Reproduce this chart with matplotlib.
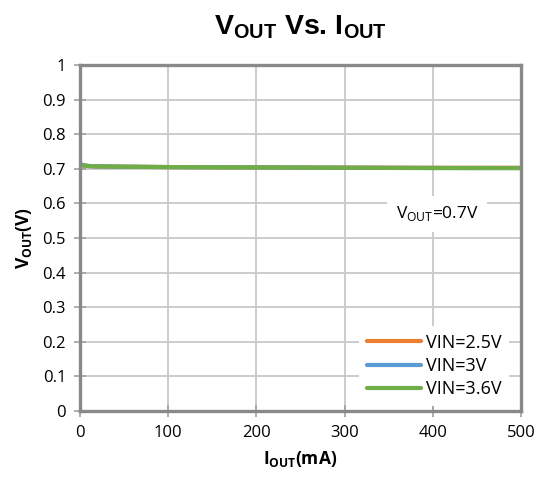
import matplotlib
matplotlib.use("Agg")
import matplotlib.pyplot as plt

iout = [0, 2, 5, 10, 20, 50, 100, 200, 300, 400, 500]
vin_labels = ["VIN=2.5V", "VIN=3V", "VIN=3.6V"]
v_25 = [0.713, 0.711, 0.709, 0.708, 0.707, 0.706, 0.705, 0.704, 0.7035, 0.703, 0.703]
v_30 = [0.715, 0.712, 0.710, 0.708, 0.707, 0.706, 0.705, 0.704, 0.703, 0.7025, 0.7022]
v_36 = [0.712, 0.710, 0.709, 0.708, 0.707, 0.706, 0.705, 0.704, 0.703, 0.702, 0.702]
colors = ["#ED7D31", "#5B9BD5", "#70AD47"]
xticks = [0, 100, 200, 300, 400, 500]
yticks = [0, 0.1, 0.2, 0.3, 0.4, 0.5, 0.6, 0.7, 0.8, 0.9, 1]
ytick_labels = ["0", "0.1", "0.2", "0.3", "0.4", "0.5", "0.6", "0.7", "0.8", "0.9", "1"]

plt.rcParams['font.family'] = ['Open Sans', 'DejaVu Sans']
plt.rcParams['mathtext.fontset'] = 'custom'
plt.rcParams['mathtext.rm'] = 'Open Sans'
plt.rcParams['mathtext.bf'] = 'Open Sans:bold'
plt.rcParams['mathtext.sf'] = 'Liberation Sans:bold'

fig = plt.figure(figsize=(5.36, 4.87), dpi=100)
ax = fig.add_axes([80/536, 76/487, 441/536, 346/487])

for ys, c, lab in zip([v_25, v_30, v_36], colors, vin_labels):
    ax.plot(iout, ys, color=c, lw=3, label=lab, solid_capstyle='round')

ax.set_xlim(0, 500)
ax.set_ylim(0, 1)
ax.set_xticks(xticks)
ax.set_yticks(yticks)
ax.set_yticklabels(ytick_labels)
ax.grid(True, color="#c8c8c8", lw=1.3)
ax.set_axisbelow(True)
for s in ax.spines.values():
    s.set_color("#898989")
    s.set_linewidth(2.4)
ax.tick_params(direction='inout', length=8, width=1.2, color="#a0a0a0",
               labelsize=12, labelcolor="#000000", pad=6)

ax.set_title(r'V$_{\mathsf{OUT}}$ Vs. I$_{\mathsf{OUT}}$', fontsize=20.5,
             family='Liberation Sans', fontweight='bold', pad=22)
ax.set_xlabel(r'I$_{\mathbf{OUT}}$(mA)', fontsize=12.5, fontweight='bold', labelpad=6)
ax.set_ylabel(r'V$_{\mathbf{OUT}}$(V)', fontsize=12.5, fontweight='bold', labelpad=6)

ax.text(405, 0.57, r'V$_{\mathrm{OUT}}$=0.7V', fontsize=12.5, ha='center', va='center',
        bbox=dict(facecolor='white', edgecolor='none', pad=6))

leg = ax.legend(loc='lower right', bbox_to_anchor=(0.985, 0.0), frameon=True, fontsize=13,
                handlelength=3.0, handletextpad=0.3, labelspacing=0.3, borderaxespad=0.3,
                fancybox=False)
leg.get_frame().set_edgecolor('none')
leg.get_frame().set_facecolor('white')
leg.get_frame().set_alpha(1)

fig.savefig("out.png", dpi=100)
